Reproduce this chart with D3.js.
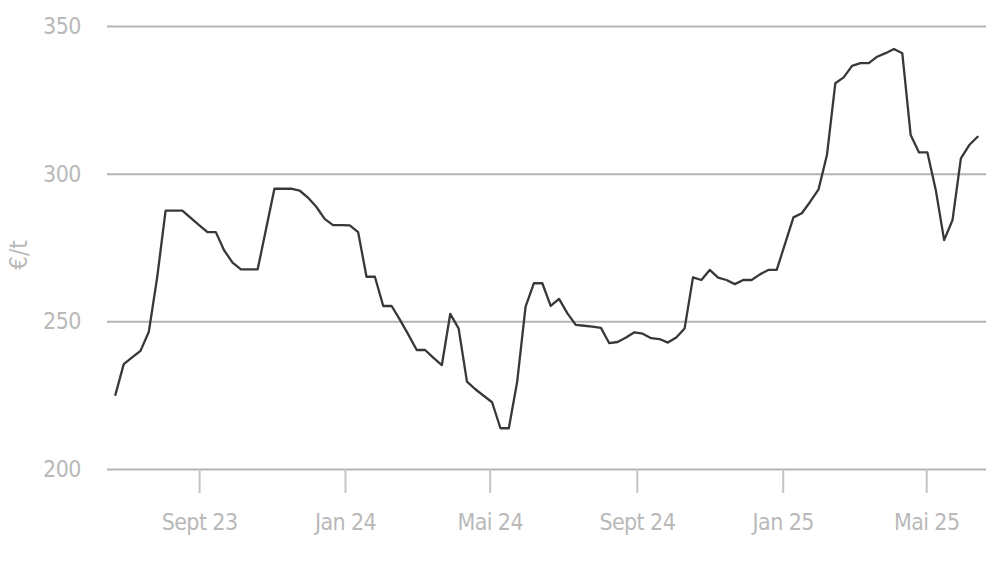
<!DOCTYPE html>
<html>
<head>
<meta charset="utf-8">
<script src="https://cdn.jsdelivr.net/npm/d3@7"></script>
<style>
  html, body { margin: 0; padding: 0; background: #ffffff; }
  svg text { font-family: "Liberation Sans Narrow", "DejaVu Sans Condensed", "Roboto", sans-serif; fill: #b9b9b9; }
</style>
</head>
<body>
<svg id="chart" width="1000" height="562"></svg>
<script>
// ---- data ----
const startDate = "2023-06-23";   // first weekly observation
const prices = [
  225.1, 235.5, 237.8, 240.0, 246.5, 265.0, 287.5, 287.5, 287.5, 285.0,
  282.6, 280.2, 280.2, 274.0, 269.9, 267.6, 267.6, 267.6, 281.3, 294.9,
  294.9, 294.9, 294.3, 291.9, 288.8, 284.7, 282.6, 282.6, 282.5, 280.2,
  265.1, 265.1, 255.2, 255.2, 250.5, 245.5, 240.3, 240.3, 237.6, 235.2,
  252.5, 247.6, 229.6, 227.0, 224.8, 222.6, 213.8, 213.8, 229.6, 255.0,
  262.9, 262.9, 255.2, 257.6, 252.7, 248.8, 248.5, 248.2, 247.8, 242.6,
  243.0, 244.5, 246.3, 245.8, 244.3, 244.0, 242.8, 244.5, 247.6, 264.9,
  264.0, 267.4, 264.8, 264.0, 262.6, 264.0, 264.0, 265.9, 267.4, 267.4,
  276.3, 285.2, 286.6, 290.5, 294.7, 306.3, 330.6, 332.6, 336.5, 337.4,
  337.4, 339.6, 340.8, 342.2, 340.8, 313.1, 307.2, 307.2, 294.5, 277.5,
  284.3, 305.2, 309.7, 312.5
];
const xTickDates  = ["2023-09-01", "2024-01-01", "2024-05-01", "2024-09-01", "2025-01-01", "2025-05-01"];
const xTickLabels = ["Sept 23", "Jan 24", "Mai 24", "Sept 24", "Jan 25", "Mai 25"];
const yTicks = [200, 250, 300, 350];
const yLabel = "€/t";

// ---- build ----
const parse = d3.utcParse("%Y-%m-%d");
const t0 = parse(startDate);
const series = prices.map((v, i) => ({ date: d3.utcDay.offset(t0, 7 * i), value: v }));

const svg = d3.select("#chart");

const x = d3.scaleUtc()
  .domain([parse("2023-06-16"), parse("2025-06-20")])
  .range([107, 986]);
const y = d3.scaleLinear()
  .domain([200, 350])
  .range([469, 26]);

// horizontal gridlines + y labels
const yAxis = d3.axisLeft(y)
  .tickValues(yTicks)
  .tickSize(-(x.range()[1] - x.range()[0]))
  .tickPadding(26)
  .tickFormat(d3.format("d"));
const gy = svg.append("g")
  .attr("transform", `translate(${x.range()[0]},0)`)
  .call(yAxis);
gy.select(".domain").remove();
gy.selectAll(".tick line").attr("stroke", "#b4b4b4").attr("stroke-width", 2);
gy.selectAll(".tick text")
  .attr("font-size", 23)
  .attr("letter-spacing", "-0.5px")
  .attr("fill", "#b9b9b9");

// x axis ticks + labels
const xTickMap = new Map(xTickDates.map((d, i) => [+parse(d), xTickLabels[i]]));
const xAxis = d3.axisBottom(x)
  .tickValues(xTickDates.map(parse))
  .tickSize(24)
  .tickPadding(21)
  .tickFormat(d => xTickMap.get(+d));
const gx = svg.append("g")
  .attr("transform", `translate(0,${y(200)})`)
  .call(xAxis);
gx.select(".domain").remove();
gx.selectAll(".tick line").attr("stroke", "#c4c4c4").attr("stroke-width", 2);
gx.selectAll(".tick text")
  .attr("font-size", 23)
  .attr("letter-spacing", "-0.6px")
  .attr("fill", "#b9b9b9");

// y axis title
svg.append("text")
  .attr("transform", `translate(27,255) rotate(-90)`)
  .attr("text-anchor", "middle")
  .attr("font-size", 24)
  .text(yLabel);

// line
const line = d3.line()
  .x(d => x(d.date))
  .y(d => y(d.value));
svg.append("path")
  .datum(series)
  .attr("fill", "none")
  .attr("stroke", "#383838")
  .attr("stroke-width", 2.3)
  .attr("stroke-linejoin", "round")
  .attr("stroke-linecap", "round")
  .attr("d", line);
</script>
</body>
</html>
